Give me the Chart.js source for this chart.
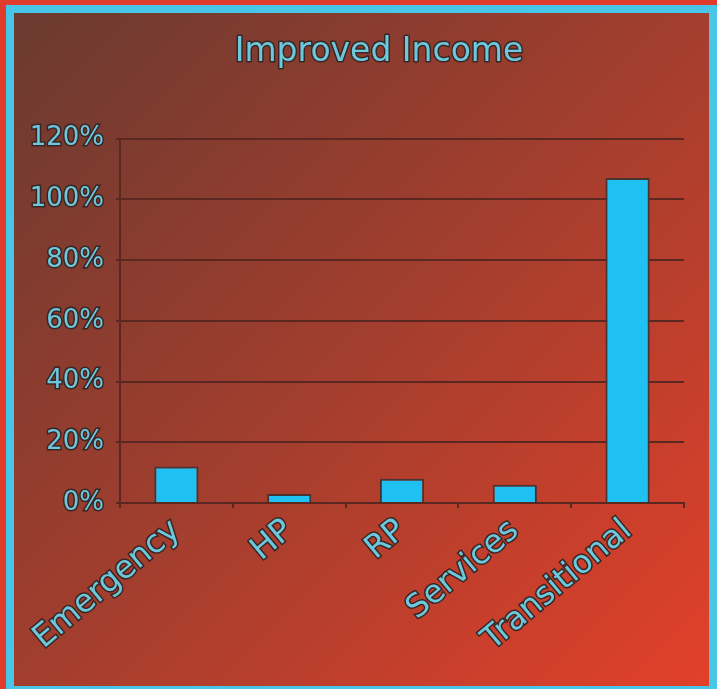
<!DOCTYPE html>
<html><head><meta charset="utf-8">
<script src="https://cdn.jsdelivr.net/npm/chart.js@4.4.1/dist/chart.umd.min.js"></script>
<style>
html,body{margin:0;padding:0;width:717px;height:689px;overflow:hidden;background:#e03c2c;}
#frame{position:absolute;left:6px;top:5px;width:711px;height:684px;background:#48c6e8;}
#panel{position:absolute;left:14px;top:13px;width:695px;height:673px;background:linear-gradient(135deg,#6a3a30 0%,#a33e2e 50%,#e2402a 100%);}
canvas{position:absolute;left:0;top:0;}
</style></head><body>
<div id="frame"></div>
<div id="panel"><canvas id="c" width="695" height="673"></canvas></div>
<script>
const TITLE = 'Improved Income';
const categories = ['Emergency', 'HP', 'RP', 'Services', 'Transitional'];
const values = [12, 3, 8, 6, 107];          // percent
const yTickValues = [0, 20, 40, 60, 80, 100, 120];
const yTickLabels = ['0%', '20%', '40%', '60%', '80%', '100%', '120%'];

const TEXT = '#6cc8dc';
const OUTLINE = '#3a2624';
const GRID = '#5a2820';
const titleFont = {family: 'DejaVu Sans', size: 33, weight: 'normal', lineHeight: 1.2};

const titleTweak = {
  id: 'titleTweak',
  afterLayout(chart) {
    const t = chart.titleBlock;
    if (t) { t.left += 30; t.right += 30; }
  },
  beforeDraw(chart) {
    const t = chart.titleBlock;
    if (!t) return;
    const ctx = chart.ctx;
    const o = chart.options.plugins.title;
    ctx.save();
    ctx.font = `${titleFont.weight} ${titleFont.size}px "${titleFont.family}"`;
    ctx.textAlign = 'center';
    ctx.textBaseline = 'middle';
    ctx.lineWidth = 3;
    ctx.lineJoin = 'round';
    ctx.strokeStyle = OUTLINE;
    const y = t.top + o.padding.top + titleFont.size * titleFont.lineHeight / 2;
    ctx.strokeText(o.text, (t.left + t.right) / 2, y);
    ctx.restore();
  }
};

new Chart(document.getElementById('c'), {
  type: 'bar',
  data: {
    labels: categories,
    datasets: [{
      data: values,
      backgroundColor: '#1ec1f1',
      borderColor: '#4a3432',
      borderWidth: 2,
      barPercentage: 0.49,
      categoryPercentage: 0.8
    }]
  },
  options: {
    responsive: false,
    animation: false,
    devicePixelRatio: 1,
    layout: {padding: {left: 0, right: 25, top: 0, bottom: 0}},
    plugins: {
      legend: {display: false},
      tooltip: {enabled: false},
      title: {
        display: true,
        text: TITLE,
        color: TEXT,
        font: titleFont,
        padding: {top: 20, bottom: 66}
      }
    },
    scales: {
      x: {
        grid: {display: true, drawOnChartArea: false, drawTicks: true, tickLength: 5, color: GRID, lineWidth: 2},
        border: {display: true, color: GRID, width: 2},
        ticks: {
          color: TEXT, autoSkip: false, maxRotation: 40, minRotation: 40, padding: 4,
          font: {family: 'DejaVu Sans', size: 32},
          textStrokeColor: OUTLINE, textStrokeWidth: 3
        },
        afterFit(s) { s.height = 183; }
      },
      y: {
        min: 0, max: 120,
        afterBuildTicks(s) { s.ticks = yTickValues.map(v => ({value: v})); },
        grid: {color: GRID, lineWidth: 2, tickLength: 4, drawTicks: true},
        border: {display: true, color: GRID, width: 2},
        ticks: {
          color: TEXT, padding: 12,
          font: {family: 'DejaVu Sans', size: 26},
          textStrokeColor: OUTLINE, textStrokeWidth: 3,
          callback: (v) => yTickLabels[yTickValues.indexOf(v)]
        },
        afterFit(s) { s.width = 106; }
      }
    }
  },
  plugins: [titleTweak]
});
</script>
</body></html>
